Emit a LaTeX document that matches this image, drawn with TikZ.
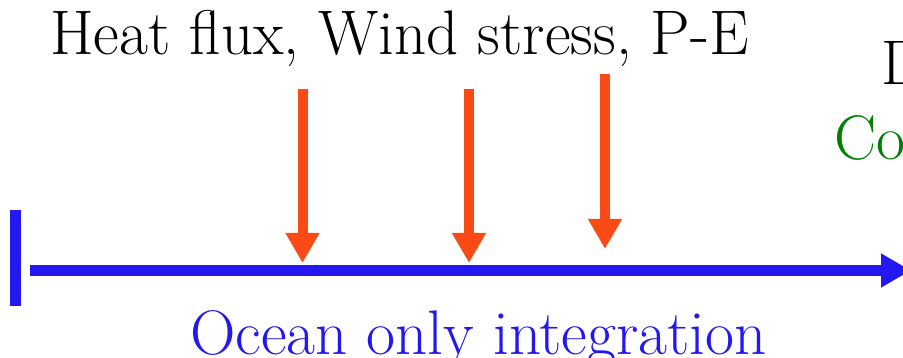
\documentclass[tikz,border=0pt]{standalone}
\usetikzlibrary{arrows.meta}
\definecolor{fluxred}{HTML}{FA4B16}
\definecolor{timeblue}{HTML}{2319F0}
\definecolor{cogreen}{HTML}{008000}
\tikzset{
  bigtext/.style={inner sep=0pt, anchor=base west, font=\fontsize{63}{70}\selectfont},
  forcing/.style={draw=fluxred, line width=10pt, -{Triangle[length=30pt,width=32pt]}},
  timeline/.style={draw=timeblue, line width=10.5pt, -{Triangle[length=30pt,width=32pt]}}
}
\begin{document}
\begin{tikzpicture}[x=1pt,y=-1pt]
\useasboundingbox (0,0) rectangle (903,358);
\clip (0,0) rectangle (903,358);
% texts
\node[bigtext] (forc) at (50,55) {Heat flux, Wind stress, P-E};
\node[bigtext, text=timeblue] (ocean) at (190,354) {Ocean only integration};
\node[bigtext] (dtxt) at (881,85) {D};
\node[bigtext, text=cogreen] (cotxt) at (834,160) {Co};
% timeline
\coordinate (bartop) at (15.5,210);
\coordinate (barbot) at (15.5,306);
\draw[timeblue, line width=10.5pt] (bartop) -- (barbot);
\coordinate (tstart) at (30,270.5);
\coordinate (tend) at (911,270.5);
\draw[timeline] (tstart) -- (tend);
% forcing arrows
\coordinate (a1s) at (302.5,89);  \coordinate (a1e) at (302.5,263);
\coordinate (a2s) at (469,89);    \coordinate (a2e) at (469,263);
\coordinate (a3s) at (605,74);    \coordinate (a3e) at (605,249);
\draw[forcing] (a1s) -- (a1e);
\draw[forcing] (a2s) -- (a2e);
\draw[forcing] (a3s) -- (a3e);
\end{tikzpicture}
\end{document}
